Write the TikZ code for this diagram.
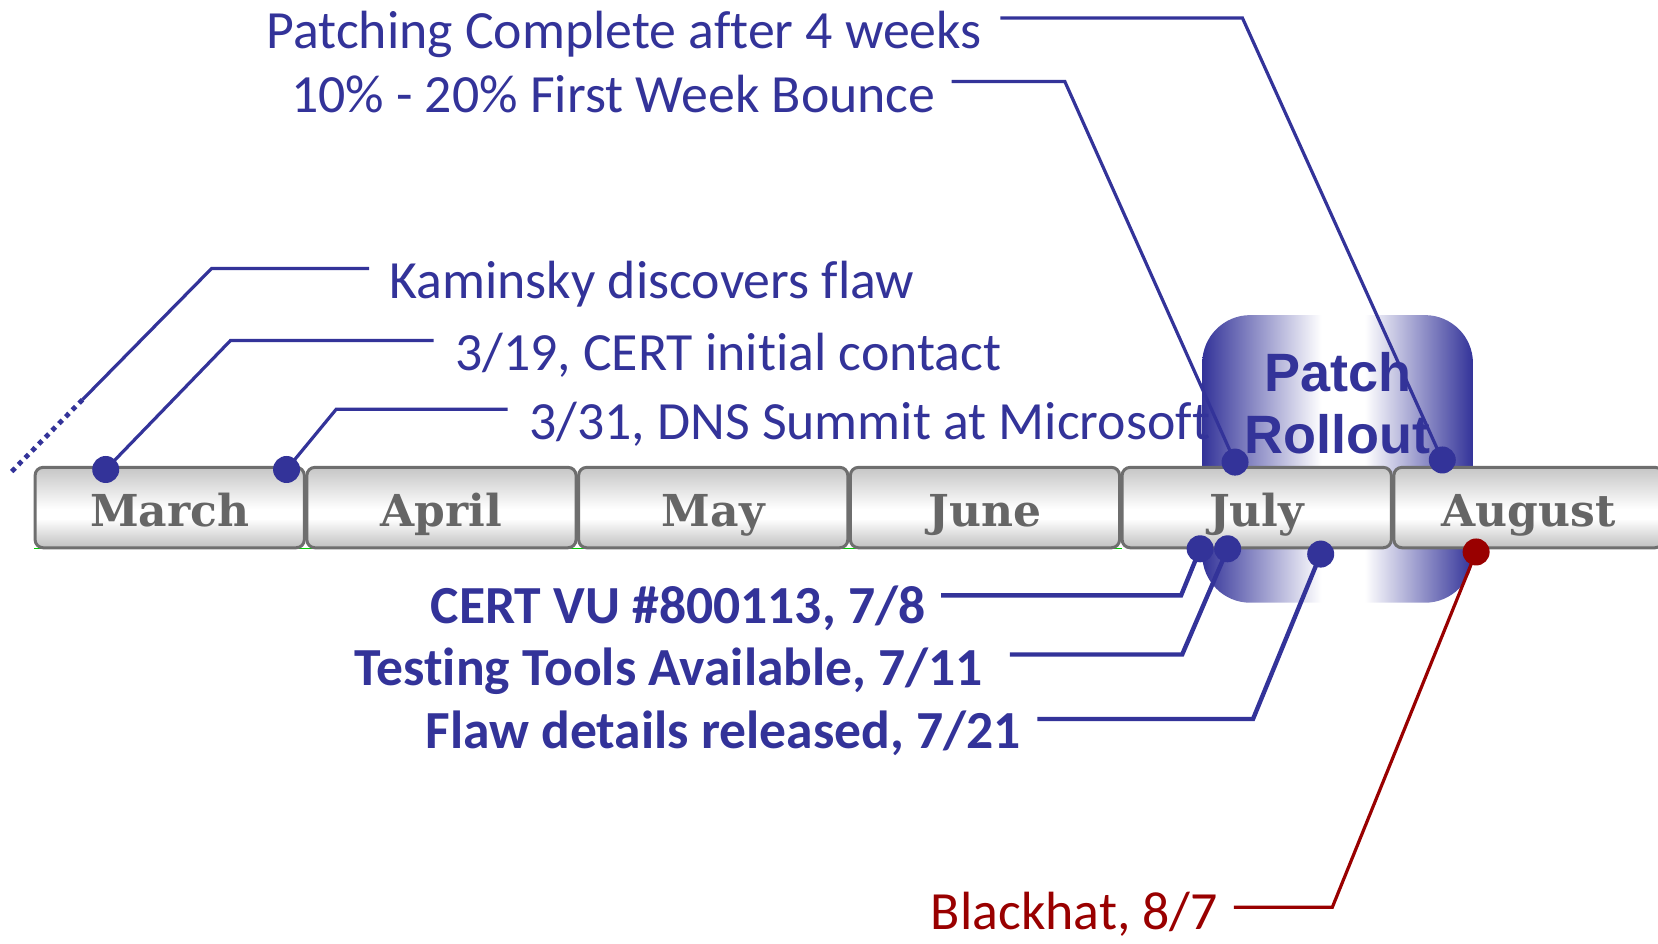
\documentclass[tikz,border=0pt]{standalone}
\usepackage{fontspec}
\setmainfont{Carlito}[Ligatures=NoCommon]
\newfontfamily\monthfont{DejaVu Serif}
\newfontfamily\patchfont{Liberation Sans}
\definecolor{pblue}{HTML}{333399}
\definecolor{pred}{HTML}{990000}
\definecolor{mgray}{HTML}{666666}
\definecolor{bordergray}{HTML}{6E6E6E}
\colorlet{barbot}{gray!50}
\colorlet{bartop}{gray!45}
\pgfdeclareverticalshading{monthbar}{100bp}{color(0bp)=(barbot); color(25bp)=(barbot); color(43bp)=(white); color(49bp)=(white); color(75bp)=(bartop); color(100bp)=(bartop)}
\pgfdeclarehorizontalshading{patchsh}{100bp}{color(0bp)=(pblue); color(25bp)=(pblue); color(47bp)=(white); color(55bp)=(white); color(75bp)=(pblue); color(100bp)=(pblue)}
\begin{document}
\begin{tikzpicture}[x=0.5287pt,y=-0.5287pt,
  lab/.style={inner sep=0pt, text=pblue, font=\fontsize{26.9}{30}\selectfont, anchor=base west},
  blab/.style={lab, font=\fontsize{26.8}{30}\selectfont\bfseries},
  rlab/.style={lab, text=pred},
  monthbox/.style={draw=bordergray, line width=1.5pt, rounded corners=4pt, shading=monthbar,
    minimum width=134.6pt, minimum height=40.2pt, inner sep=0pt},
  monthlabel/.style={inner sep=0pt, anchor=base, text=mgray, font=\monthfont\bfseries\fontsize{22}{24}\selectfont},
  bdot/.style={circle, fill=pblue, inner sep=0pt, minimum size=13.5pt},
  rdot/.style={bdot, fill=pred},
  conn/.style={draw=pblue, line width=1.6pt},
  bconn/.style={draw=pblue, line width=2.2pt},
  rconn/.style={draw=pred, line width=1.6pt},
  dotline/.style={draw=pblue, line width=2.4pt, dash pattern=on 2.4pt off 2.4pt}
]
\useasboundingbox (0,0) rectangle (1568,892);
\clip (0,0) rectangle (1568,892);

% Patch rollout background
\path[shading=patchsh, rounded corners=24pt] (1137,298) rectangle (1393,570);

% thin green base line (visible only between boxes)
\draw[green!80!black, line width=0.6pt] (32,519) -- (1061,519);

% month boxes
\foreach \i/\m in {0/March,1/April,2/May,3/June,4/July,5/August} {
  \node[monthbox] (m\i) at ({160.5+257*\i},480) {};
  \node[monthlabel] (ml\i) at ({160.5+257*\i},498) {\m};
}

% Patch rollout text
\node[inner sep=0pt, text=pblue, align=center,
  font=\patchfont\bfseries\fontsize{27}{31}\selectfont] (patchtxt) at (1265,381) {Patch\\Rollout};

% labels
\node[lab] (t1) at (252,46) {Patching Complete after 4 weeks};
\node[lab] (t2) at (275,106) {10\% - 20\% First Week Bounce};
\node[lab] (t3) at (368,282) {Kaminsky discovers flaw};
\node[lab] (t4) at (430,350) {3/19, CERT initial contact};
\node[lab] (t5) at (500,416) {3/31, DNS Summit at Microsoft};
\node[blab] (t6) at (407,590) {CERT VU \#800113, 7/8};
\node[blab] (t7) at (335,648) {Testing Tools Available, 7/11};
\node[blab] (t8) at (402,708) {Flaw details released, 7/21};
\node[rlab] (t9) at (880,879) {Blackhat, 8/7};

% dots
\node[bdot] (d4) at (100,444) {};
\node[bdot] (d5) at (271,444) {};
\node[bdot] (d2) at (1168,437) {};
\node[bdot] (d1) at (1364,435) {};
\node[bdot] (d6) at (1135,519) {};
\node[bdot] (d7) at (1161,519) {};
\node[bdot] (d8) at (1249,524) {};
\node[rdot] (d9) at (1396,522) {};

% connector points
\coordinate (s1) at (946,17);  \coordinate (b1) at (1175,17);
\coordinate (s2) at (900,77);  \coordinate (b2) at (1007,77);
\coordinate (s3) at (349,254); \coordinate (b3) at (200,254);
\coordinate (k3) at (78,378);  \coordinate (e3) at (10,447);
\coordinate (s4) at (410,322); \coordinate (b4) at (218,322);
\coordinate (s5) at (480,387); \coordinate (b5) at (318,387);
\coordinate (s6) at (890,563); \coordinate (b6) at (1117,563);
\coordinate (s7) at (955,619); \coordinate (b7) at (1118,619);
\coordinate (s8) at (981,680); \coordinate (b8) at (1185,680);
\coordinate (s9) at (1167,858); \coordinate (b9) at (1260,858);

% connectors
\draw[conn] (s1) -- (b1) -- (d1.center);
\draw[conn] (s2) -- (b2) -- (d2.center);
\draw[conn] (s3) -- (b3) -- (k3);
\draw[dotline] (k3) -- (e3);
\draw[conn] (s4) -- (b4) -- (d4.center);
\draw[conn] (s5) -- (b5) -- (d5.center);
\draw[bconn] (s6) -- (b6) -- (d6.center);
\draw[bconn] (s7) -- (b7) -- (d7.center);
\draw[bconn] (s8) -- (b8) -- (d8.center);
\draw[rconn] (s9) -- (b9) -- (d9.center);
\end{tikzpicture}
\end{document}
